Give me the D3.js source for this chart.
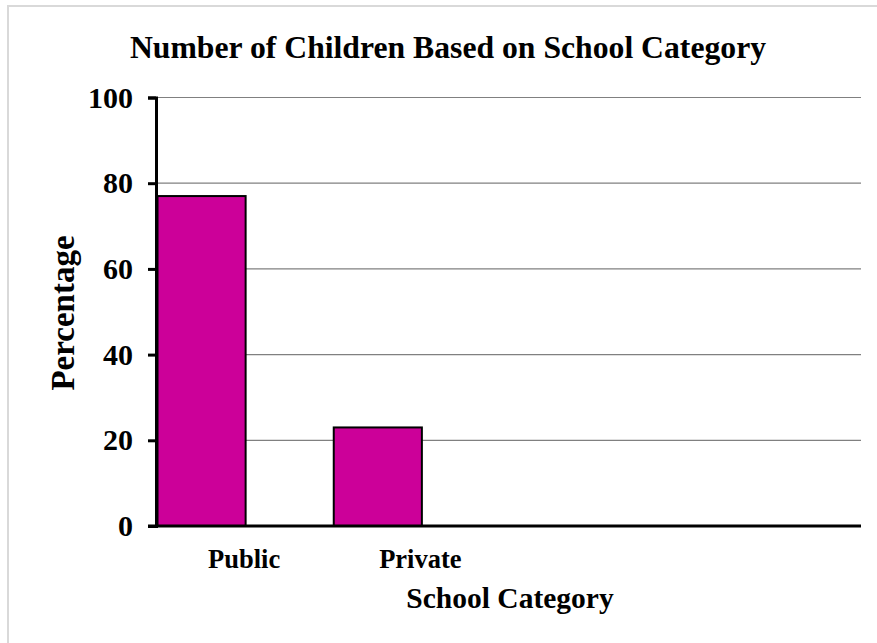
<!DOCTYPE html>
<html>
<head>
<meta charset="utf-8">
<script src="https://cdn.jsdelivr.net/npm/d3@7"></script>
<style>
html,body{margin:0;padding:0;background:#fff;}
svg{display:block;font-family:"Liberation Serif","Times New Roman",serif;font-weight:bold;}
</style>
</head>
<body>
<script>
const categories = ["Public", "Private", "", " "];
const values = [77, 23, null, null];
const yTicks = [0, 20, 40, 60, 80, 100];
const title = "Number of Children Based on School Category";
const xTitle = "School Category";
const yTitle = "Percentage";

(function () {
const W = 877, H = 643;
const svg = d3.select("body").append("svg").attr("width", W).attr("height", H);

svg.append("rect").attr("x", 8).attr("y", 6).attr("width", 900).attr("height", 700)
  .attr("fill", "#fff").attr("stroke", "#d9d9d9").attr("stroke-width", 2);

const pLeft = 156, pRight = 861, pTop = 97.5, pBottom = 526;
const x = d3.scaleBand().domain(categories).range([pLeft, pRight])
  .paddingInner(0.5).paddingOuter(0.25).align(0);
const y = d3.scaleLinear().domain([0, 100]).range([pBottom, pTop]);

// gridlines
svg.append("g").selectAll("line").data(yTicks.filter(d => d > 0)).join("line")
  .attr("x1", pLeft).attr("x2", pRight)
  .attr("y1", d => y(d)).attr("y2", d => y(d))
  .attr("stroke", "#808080").attr("stroke-width", 1.2);

// bars
svg.append("g").selectAll("rect").data(categories.map((c, i) => ({c, v: values[i]})).filter(d => d.v != null)).join("rect")
  .attr("x", d => x(d.c) + 1.5)
  .attr("y", d => y(d.v))
  .attr("width", x.bandwidth())
  .attr("height", d => y(0) - y(d.v))
  .attr("fill", "#cc0099").attr("stroke", "#000").attr("stroke-width", 2);

// y axis
const yAxis = svg.append("g").attr("transform", `translate(${pLeft},0)`)
  .call(d3.axisLeft(y).tickValues(yTicks).tickSize(8).tickPadding(15));
yAxis.select(".domain").attr("stroke", "#000").attr("stroke-width", 3);
yAxis.selectAll(".tick line").attr("stroke", "#000").attr("stroke-width", 3);
yAxis.selectAll(".tick text").attr("font-size", 30).attr("font-family", "Liberation Serif").attr("font-weight", "bold").attr("fill", "#000");

// x axis
const xAxis = svg.append("g").attr("transform", `translate(0,${pBottom})`)
  .call(d3.axisBottom(x).tickSize(0).tickPadding(14));
xAxis.select(".domain").attr("stroke", "#000").attr("stroke-width", 3).attr("d", `M${pLeft - 8},0H${pRight}`);
xAxis.selectAll(".tick").attr("transform", d => `translate(${x(d) + x.bandwidth()},0)`);
xAxis.selectAll(".tick text").attr("font-size", 26.5).attr("font-family", "Liberation Serif").attr("font-weight", "bold").attr("fill", "#000").attr("dy", "1.05em");

// titles
svg.append("text").attr("x", 448).attr("y", 58).attr("text-anchor", "middle")
  .attr("font-size", 31.7).text(title);
svg.append("text").attr("x", 510).attr("y", 608).attr("text-anchor", "middle")
  .attr("font-size", 29.5).text(xTitle);
svg.append("text").attr("transform", "translate(74,313) rotate(-90)").attr("text-anchor", "middle")
  .attr("font-size", 33).text(yTitle);
})();
</script>
</body>
</html>
